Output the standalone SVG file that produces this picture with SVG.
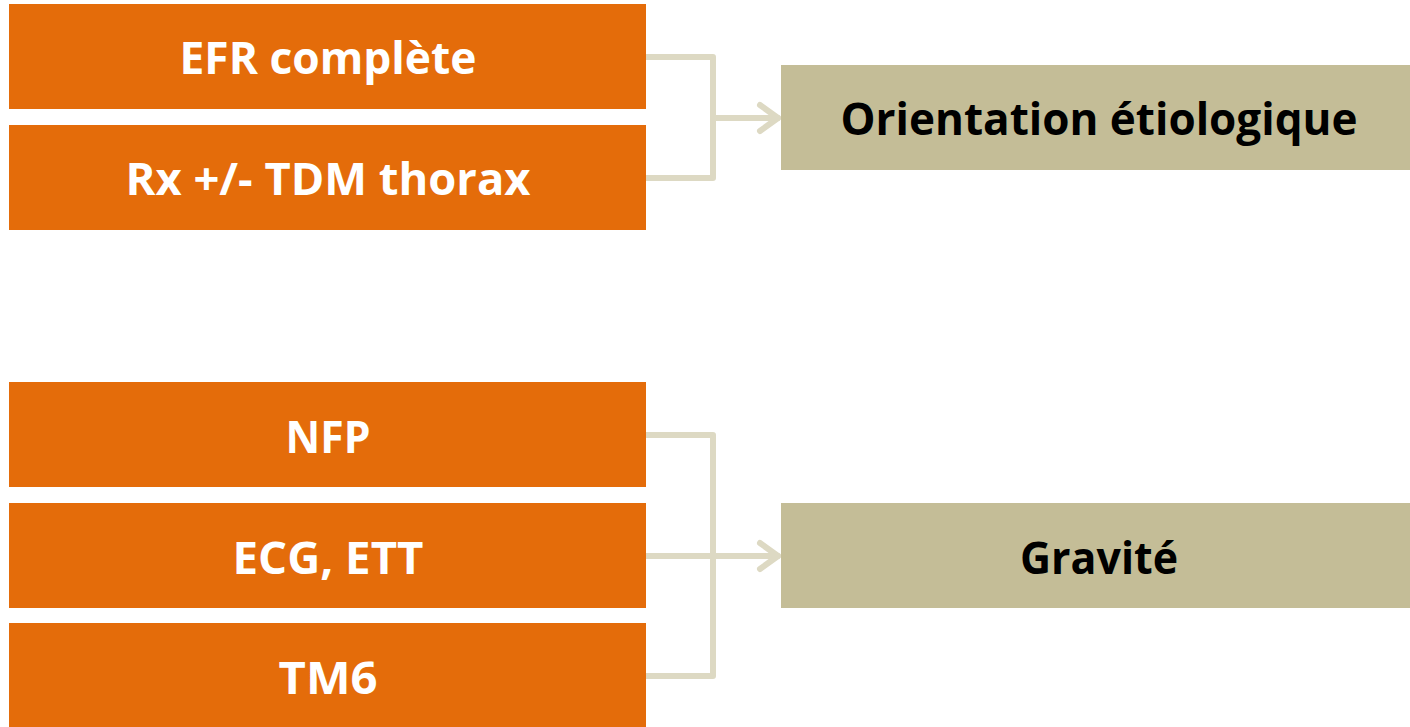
<svg xmlns="http://www.w3.org/2000/svg" width="1410" height="727" viewBox="0 0 1410 727">
<style>
.src{fill:#E46C0A}
.dst{fill:#C4BD97}
.t{font-family:"Open Sans","Liberation Sans",sans-serif;font-weight:bold;font-size:44px;text-anchor:middle}
.w{fill:#FFFFFF}
.k{fill:#000000}
.c{fill:none;stroke:#DDD9C3;stroke-width:6;stroke-linejoin:round;stroke-linecap:round}
</style>
<rect width="1410" height="727" fill="#FFFFFF"/>
<g id="connectors">
<path class="c" d="M646 57 H713 V178 H646"/>
<path class="c" d="M713 118 H778"/>
<path class="c" d="M760 105 L778 118 L760 131"/>
<path class="c" d="M646 435 H713 V676 H646"/>
<path class="c" d="M646 556 H778"/>
<path class="c" d="M760 543 L778 556 L760 569"/>
</g>
<g id="n1"><rect class="src" x="9" y="4" width="637" height="105"/><text class="t w" x="328" y="74" textLength="297" lengthAdjust="spacingAndGlyphs">EFR complète</text></g>
<g id="n2"><rect class="src" x="9" y="125" width="637" height="105"/><text class="t w" x="328" y="195" textLength="405" lengthAdjust="spacingAndGlyphs">Rx +/- TDM thorax</text></g>
<g id="n3"><rect class="dst" x="781" y="65" width="629" height="105"/><text class="t k" x="1099" y="135" textLength="517" lengthAdjust="spacingAndGlyphs">Orientation étiologique</text></g>
<g id="n4"><rect class="src" x="9" y="382" width="637" height="105"/><text class="t w" x="328" y="453" textLength="85" lengthAdjust="spacingAndGlyphs">NFP</text></g>
<g id="n5"><rect class="src" x="9" y="503" width="637" height="105"/><text class="t w" x="328" y="574" textLength="191" lengthAdjust="spacingAndGlyphs">ECG, ETT</text></g>
<g id="n6"><rect class="src" x="9" y="623" width="637" height="104"/><text class="t w" x="328" y="694" textLength="99" lengthAdjust="spacingAndGlyphs">TM6</text></g>
<g id="n7"><rect class="dst" x="781" y="503" width="629" height="105"/><text class="t k" x="1099" y="574" textLength="158" lengthAdjust="spacingAndGlyphs">Gravité</text></g>
</svg>
